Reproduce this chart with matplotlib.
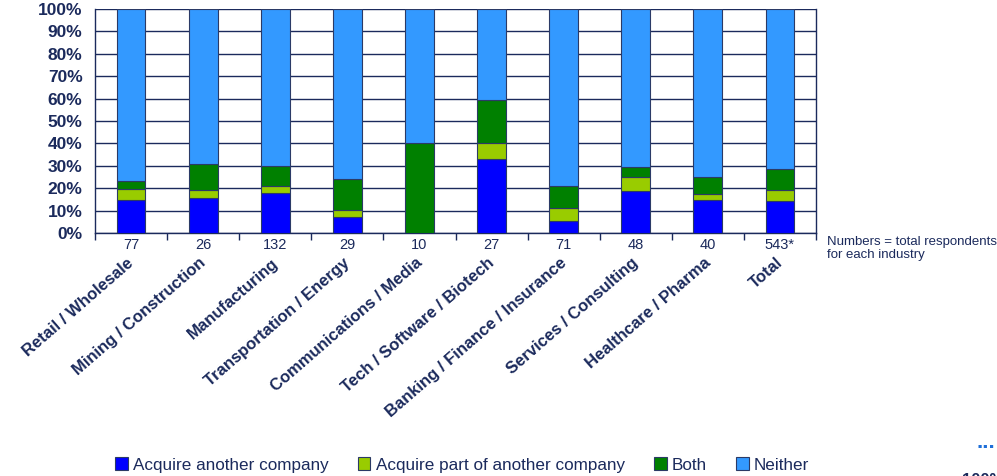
import matplotlib
matplotlib.use("Agg")
import matplotlib.pyplot as plt
from matplotlib.patches import Rectangle
import numpy as np

plt.rcParams['font.family'] = ['Liberation Sans', 'DejaVu Sans']

categories = ["Retail / Wholesale", "Mining / Construction", "Manufacturing",
              "Transportation / Energy", "Communications / Media",
              "Tech / Software / Biotech", "Banking / Finance / Insurance",
              "Services / Consulting", "Healthcare / Pharma", "Total"]
counts = ["77", "26", "132", "29", "10", "27", "71", "48", "40", "543*"]
acquire = [14.7, 15.5, 17.7, 7.1, 0.0, 33.1, 5.5, 18.9, 14.9, 14.1]
acquire_part = [4.9, 3.5, 3.4, 3.0, 0.0, 7.3, 5.6, 6.1, 2.5, 4.9]
both = [3.7, 11.9, 8.6, 14.1, 40.0, 19.0, 10.0, 4.4, 7.7, 9.5]
series_names = ["Acquire another company", "Acquire part of another company", "Both", "Neither"]
colors = ["#0000FF", "#99CC00", "#008000", "#3399FF"]
yticks = [0, 10, 20, 30, 40, 50, 60, 70, 80, 90, 100]

navy = "#1B2A5C"
edge = "#2B3A66"

acquire = np.array(acquire)
acquire_part = np.array(acquire_part)
both = np.array(both)
neither = 100 - acquire - acquire_part - both

fig = plt.figure(figsize=(9.97, 4.76), dpi=100)
ax = fig.add_axes([95/997, 1 - 233/476, (816-95)/997, (233-9)/476])

x = np.arange(len(categories))
bottom = np.zeros(len(categories))
for vals, c in zip([acquire, acquire_part, both, neither], colors):
    ax.bar(x, vals, bottom=bottom, width=0.4, color=c, edgecolor=edge, linewidth=0.8, zorder=3)
    bottom += vals

ax.set_xlim(-0.5, len(categories) - 0.5)
ax.set_ylim(0, 100)
ax.set_yticks(yticks)
ax.set_yticklabels([f"{t}%" for t in yticks], fontsize=12.5, fontweight='bold', color=navy)
ax.tick_params(axis='y', length=0, pad=9)
ax.yaxis.grid(True, color=navy, linewidth=1.0, zorder=1)
ax.set_axisbelow(True)

ax.set_xticks(np.arange(len(categories) + 1) - 0.5)
ax.set_xticklabels([])
ax.tick_params(axis='x', direction='out', length=5, width=1, color=navy)

for s in ['left', 'bottom', 'right']:
    ax.spines[s].set_color(navy)
    ax.spines[s].set_linewidth(1.0)
ax.spines['top'].set_visible(False)

for i, (cat, n) in enumerate(zip(categories, counts)):
    ax.annotate(n, xy=(i, 0), xycoords=('data', 'axes fraction'), xytext=(0, -3.5),
                textcoords='offset points', ha='center', va='top', fontsize=10.5, color=navy)
    ax.annotate(cat, xy=(i, 0), xycoords=('data', 'axes fraction'), xytext=(-3, -16),
                textcoords='offset points', ha='right', va='top', rotation=41,
                rotation_mode='anchor', fontsize=12, fontweight='bold', color=navy)

fig.text(827/997, 1 - 236/476, "Numbers = total respondents\nfor each industry",
         ha='left', va='top', fontsize=9.5, color=navy, linespacing=1.1)

handles = [Rectangle((0, 0), 1, 1, facecolor=c, edgecolor=edge, linewidth=0.8) for c in colors]
fig.legend(handles, series_names, loc='center', bbox_to_anchor=(462/997, 1 - 465/476), ncol=4,
           frameon=False, fontsize=12.3, handlelength=0.75, handleheight=0.75, handletextpad=0.3,
           columnspacing=1.7, labelcolor=navy)

fig.text(995/997, 1 - 443/476, "...", ha='right', va='center', fontsize=16, fontweight='bold',
         color="#1F6FD8")
fig.text(962/997, 3/476, "100%", ha='left', va='top', fontsize=12, fontweight='bold', color=navy)

fig.savefig("out.png", dpi=100)
